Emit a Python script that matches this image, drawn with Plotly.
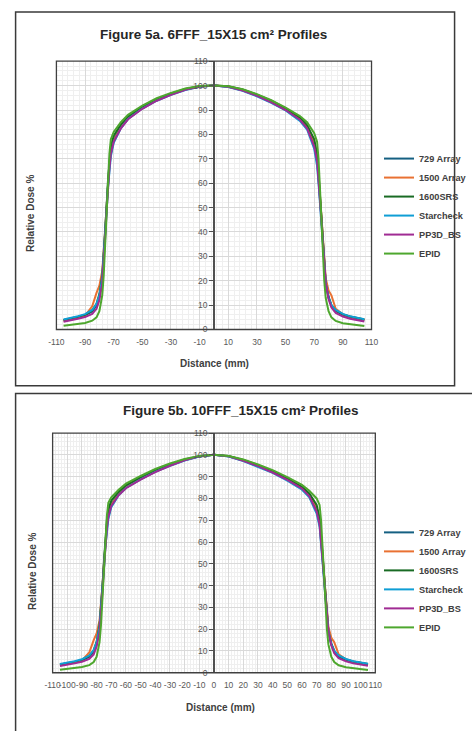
import plotly.graph_objects as go

W, H = 472, 731

# ---------------- data ----------------
distance = [-105, -100, -95, -90, -85, -82, -80, -78, -77, -76, -75, -74, -73, -72, -70,
            -65, -60, -50, -40, -30, -20, -10, 0, 10, 20, 30, 40, 50, 60, 65, 70,
            72, 73, 74, 75, 76, 77, 78, 80, 82, 85, 90, 95, 100, 105]

series_names = ["729 Array", "1500 Array", "1600SRS", "Starcheck", "PP3D_BS", "EPID"]
series_colors = ["#156082", "#E97132", "#196B24", "#0F9ED5", "#A02B93", "#4EA72E"]

# Figure 5a - 6FFF
a729_6 = [3.8, 4.3, 5.0, 5.8, 7.4, 9.8, 13.5, 21, 29, 39, 50, 60, 68, 73, 78, 83, 86.5, 90.8, 94, 96.4, 98.4, 99.6, 100,
          99.5, 98.1, 95.9, 93.3, 90.2, 86.2, 83, 76, 70, 63, 55, 46, 37, 28, 20, 13.5, 10, 7.6, 6.0, 5.1, 4.4, 3.9]
a1500_6 = [3.6, 4.1, 4.8, 5.7, 9.5, 15, 18, 24, 31, 40, 50, 59, 67, 72, 77.5, 83, 86.8, 91, 94.2, 96.5, 98.5, 99.6, 100,
           99.6, 98.2, 96, 93.5, 90.4, 86.5, 83.3, 77, 71, 64, 56, 47, 38, 29, 21, 16, 14, 8.5, 6.2, 5.2, 4.5, 4.0]
s1600_6 = [3.9, 4.4, 5.2, 6.0, 7.8, 10.5, 14.5, 22, 30, 40, 50, 61, 70, 75, 79.5, 84, 87.3, 91.3, 94.4, 96.7, 98.6, 99.7, 100,
           99.7, 98.4, 96.3, 93.8, 90.7, 86.9, 83.8, 78, 72, 64, 55, 45, 35, 26, 19, 13, 9.8, 7.7, 6.2, 5.3, 4.6, 4.1]
star_6 = [4.1, 4.6, 5.4, 6.3, 8.0, 10.5, 14, 21, 29, 38, 48, 58, 66, 71, 76.5, 82.5, 86.3, 90.6, 93.8, 96.2, 98.2, 99.5, 100,
          99.4, 97.9, 95.6, 92.9, 89.8, 85.5, 82, 74, 67, 60, 52, 43, 34, 26, 19, 13, 10, 8.0, 6.4, 5.4, 4.7, 4.2]
pp3d_6 = [3.2, 3.7, 4.4, 5.1, 6.4, 8.5, 12, 19, 27, 37, 48, 58, 66, 72, 77, 82.5, 86.2, 90.5, 93.8, 96.2, 98.3, 99.6, 100,
          99.5, 98, 95.8, 93.1, 90, 86, 82.5, 75, 69, 62, 54, 45, 36, 27, 19, 12.5, 9, 6.8, 5.3, 4.4, 3.8, 3.3]
epid_6 = [1.5, 1.8, 2.2, 2.7, 3.6, 5.0, 7.5, 14, 22, 35, 48, 60, 72, 78, 81, 85, 88, 91.8, 94.8, 97, 98.8, 99.8, 100,
          99.7, 98.5, 96.5, 94, 91, 87.5, 85, 80.5, 77, 70, 58, 45, 32, 20, 13, 7.5, 5, 3.5, 2.6, 2.1, 1.7, 1.4]

# Figure 5b - 10FFF
a729_10 = [3.7, 4.2, 4.9, 5.7, 7.3, 9.5, 13, 21, 29, 39, 50, 60, 68, 72.5, 77.5, 82, 85, 89, 92.4, 95.2, 97.6, 99.3, 100,
           99.3, 97.4, 94.9, 92, 88.6, 84.6, 81.5, 75, 69, 62, 54, 45, 36, 28, 20, 13.5, 10, 7.5, 5.9, 5.0, 4.3, 3.8]
a1500_10 = [3.5, 4.0, 4.7, 5.6, 9.3, 15, 18, 24, 31, 40, 50, 59, 67, 71.5, 77, 82, 85.3, 89.2, 92.6, 95.3, 97.7, 99.3, 100,
            99.4, 97.5, 95, 92.2, 88.8, 84.9, 81.8, 76, 70, 63, 55, 46, 37, 29, 21, 16, 14, 8.4, 6.1, 5.1, 4.4, 3.9]
s1600_10 = [3.8, 4.3, 5.1, 5.9, 7.7, 10.3, 14.3, 22, 30, 40, 51, 62, 70, 75, 79, 83, 86, 89.7, 93, 95.6, 97.9, 99.4, 100,
            99.5, 97.7, 95.3, 92.5, 89.2, 85.3, 82.3, 77, 71, 64, 55, 45, 35, 26, 19, 13, 9.7, 7.6, 6.1, 5.2, 4.5, 4.0]
star_10 = [4.0, 4.5, 5.3, 6.2, 7.9, 10.4, 14, 21, 29, 38, 48, 58, 66, 70.5, 76, 81.5, 84.8, 88.7, 92.2, 95, 97.4, 99.2, 100,
           99.2, 97.2, 94.6, 91.7, 88.2, 84, 80.5, 73, 67, 60, 52, 43, 34, 26, 19, 13, 10, 7.9, 6.3, 5.3, 4.6, 4.1]
pp3d_10 = [3.1, 3.6, 4.3, 5.0, 6.3, 8.4, 12, 19, 27, 37, 48, 58, 66, 71.5, 76.5, 81.5, 84.7, 88.6, 92.1, 95, 97.5, 99.3, 100,
           99.3, 97.3, 94.8, 91.9, 88.5, 84.5, 81, 74, 68, 61, 53, 44, 35, 27, 19, 12.5, 9, 6.7, 5.2, 4.3, 3.7, 3.2]
epid_10 = [1.4, 1.7, 2.1, 2.6, 3.5, 4.9, 7.3, 14, 22, 35, 48, 60, 72, 78, 80.5, 84, 86.8, 90.3, 93.5, 96, 98.1, 99.5, 100,
           99.5, 97.9, 95.6, 93, 89.8, 86.2, 83.5, 80, 77, 70, 58, 45, 32, 20, 13, 7.3, 4.9, 3.4, 2.5, 2.0, 1.6, 1.3]

series_6fff = [a729_6, a1500_6, s1600_6, star_6, pp3d_6, epid_6]
series_10fff = [a729_10, a1500_10, s1600_10, star_10, pp3d_10, epid_10]

# tick labels (plain hyphen-minus, as in the reference)
x_ticks_a = [-110, -90, -70, -50, -30, -10, 10, 30, 50, 70, 90, 110]
x_ticklabels_a = ["-110", "-90", "-70", "-50", "-30", "-10", "10", "30", "50", "70", "90", "110"]
x_ticks_b = [-110, -100, -90, -80, -70, -60, -50, -40, -30, -20, -10, 0,
             10, 20, 30, 40, 50, 60, 70, 80, 90, 100, 110]
x_ticklabels_b = ["-110", "-100", "-90", "-80", "-70", "-60", "-50", "-40", "-30", "-20", "-10", "0",
                  "10", "20", "30", "40", "50", "60", "70", "80", "90", "100", "110"]

title_a = "Figure 5a. 6FFF_15X15 cm² Profiles"
title_b = "Figure 5b. 10FFF_15X15 cm² Profiles"
y_title = "Relative Dose %"
x_title = "Distance (mm)"

# ---------------- helpers (pixel -> paper) ----------------
def px(x):
    return x / W

def py(y):
    return 1 - y / H

FONT = "Liberation Sans, Arial, sans-serif"
TICK_COLOR = "#595959"
GRID = "#d9d9d9"
MINOR = "#efefef"

fig = go.Figure()

for vals, name, col in zip(series_6fff, series_names, series_colors):
    fig.add_trace(go.Scatter(x=distance, y=vals, name=name, mode="lines",
                             line=dict(color=col, width=2), xaxis="x", yaxis="y",
                             legend="legend"))
for vals, name, col in zip(series_10fff, series_names, series_colors):
    fig.add_trace(go.Scatter(x=distance, y=vals, name=name, mode="lines",
                             line=dict(color=col, width=2), xaxis="x2", yaxis="y2",
                             legend="legend2"))

tickfont = dict(family=FONT, size=8.5, color=TICK_COLOR)

# plot areas (pixels)
A = dict(l=51, r=383, t=57, b=329, zero=217)
B = dict(l=47, r=387, t=434, b=677, zero=217)

fig.update_layout(
    width=W, height=H, margin=dict(l=0, r=0, t=0, b=0),
    paper_bgcolor="white", plot_bgcolor="white",
    font=dict(family=FONT),
    xaxis=dict(domain=[px(A["l"]), px(A["r"])], range=[-110, 110], anchor="y",
               tickmode="array", tickvals=x_ticks_a, ticktext=x_ticklabels_a,
               showgrid=True, gridcolor=GRID,
               minor=dict(tickmode="linear", tick0=-110, dtick=4, showgrid=True, gridcolor=MINOR),
               zeroline=False, showline=False, ticks="", tickangle=0, tickfont=tickfont,
               ticklabelstandoff=6),
    yaxis=dict(domain=[py(A["b"]), py(A["t"])], range=[0, 110], anchor="free",
               position=px(A["zero"]), tickmode="linear", tick0=0, dtick=10,
               showgrid=True, gridcolor=GRID,
               minor=dict(tick0=0, dtick=2, showgrid=True, gridcolor=MINOR),
               zeroline=False, showline=True, linecolor="#505050", linewidth=1.5,
               ticks="outside", ticklen=4, tickcolor="#505050", tickfont=tickfont),
    xaxis2=dict(domain=[px(B["l"]), px(B["r"])], range=[-110, 110], anchor="y2",
                tickmode="array", tickvals=x_ticks_b, ticktext=x_ticklabels_b,
                showgrid=True, gridcolor=GRID,
                minor=dict(tickmode="linear", tick0=-110, dtick=2, showgrid=True, gridcolor=MINOR),
                zeroline=False, showline=False, ticks="", tickangle=0, tickfont=tickfont,
                ticklabelstandoff=6),
    yaxis2=dict(domain=[py(B["b"]), py(B["t"])], range=[0, 110], anchor="free",
                position=px(B["zero"]), tickmode="linear", tick0=0, dtick=10,
                showgrid=True, gridcolor=GRID,
                minor=dict(tick0=0, dtick=2, showgrid=True, gridcolor=MINOR),
                zeroline=False, showline=True, linecolor="#505050", linewidth=1.5,
                ticks="outside", ticklen=4, tickcolor="#505050", tickfont=tickfont),
    legend=dict(x=px(391), y=py(141), xanchor="left", yanchor="top",
                bgcolor="rgba(0,0,0,0)",
                font=dict(family=FONT, size=9.2, color="#404040", weight="bold")),
    legend2=dict(x=px(391), y=py(520), xanchor="left", yanchor="top",
                 bgcolor="rgba(0,0,0,0)",
                 font=dict(family=FONT, size=9.2, color="#404040", weight="bold")),
    showlegend=True,
)

shapes = [
    # outer boxes
    dict(type="rect", xref="paper", yref="paper", x0=px(8), x1=px(470.5), y0=py(386), y1=py(7),
         line=dict(color="#3a3a3a", width=1.5), fillcolor="rgba(0,0,0,0)", layer="above"),
    dict(type="rect", xref="paper", yref="paper", x0=px(8), x1=px(490), y0=py(760), y1=py(394),
         line=dict(color="#3a3a3a", width=1.5), fillcolor="rgba(0,0,0,0)", layer="above"),
    # plot frames
    dict(type="rect", xref="x domain", yref="y domain", x0=0, x1=1, y0=0, y1=1,
         line=dict(color="#404040", width=1.3), layer="above"),
    dict(type="rect", xref="x2 domain", yref="y2 domain", x0=0, x1=1, y0=0, y1=1,
         line=dict(color="#404040", width=1.3), layer="above"),
]
fig.update_layout(shapes=shapes)

ann_title = dict(family=FONT, size=13.5, color="#262626", weight="bold")
ann_axis = dict(family=FONT, size=10, color="#404040", weight="bold")
common = dict(xref="paper", yref="paper", showarrow=False, xanchor="center", yanchor="middle")
annotations = [
    dict(text=title_a, x=px(217), y=py(30), font=ann_title, **common),
    dict(text=title_b, x=px(245), y=py(411), font=ann_title, **common),
    dict(text=y_title, x=px(23), y=py(211), textangle=-90, font=ann_axis, **common),
    dict(text=y_title, x=px(25), y=py(574), textangle=-90, font=ann_axis, **common),
    dict(text=x_title, x=px(218), y=py(363), font=ann_axis, **common),
    dict(text=x_title, x=px(224), y=py(712), font=ann_axis, **common),
]
fig.update_layout(annotations=annotations)

fig.write_html("out.html")
